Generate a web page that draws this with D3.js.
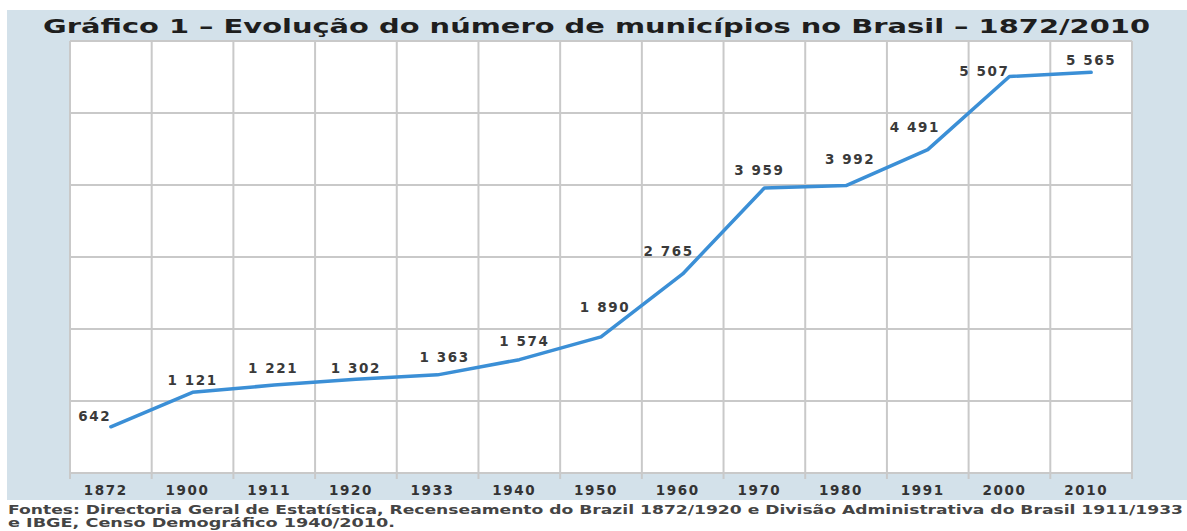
<!DOCTYPE html>
<html>
<head>
<meta charset="utf-8">
<script src="https://cdn.jsdelivr.net/npm/d3@7"></script>
<style>
  body { margin: 0; background: #fff; }
  svg { display: block; }
  text { font-family: "DejaVu Sans", Verdana, sans-serif; }
</style>
</head>
<body>
<div id="chart"></div>
<script>
// Data
var years = ['1872','1900','1911','1920','1933','1940','1950','1960','1970','1980','1991','2000','2010'];
var municipios = [642, 1121, 1221, 1302, 1363, 1574, 1890, 2765, 3959, 3992, 4491, 5507, 5565];
var gridValues = [0, 1000, 2000, 3000, 4000, 5000, 6000];

// hand placed nudges for the value labels (px from the point)
var labelDx = [-16, 0, -1, 0, 7, 5, 4, -14, -5, 4, -13, -25, 0];
var labelDy = [-6, -7, -12, -6, -13, -14, -25, -18, -13, -22, -18, 0, -7];

var titleText = 'Gráfico 1 – Evolução do número de municípios no Brasil – 1872/2010';
var footLines = [
  'Fontes: Directoria Geral de Estatística, Recenseamento do Brazil 1872/1920 e Divisão Administrativa do Brasil 1911/1933',
  'e IBGE, Censo Demográfico 1940/2010.'
];

var width = 1187, height = 531;
var plot = {left: 70, right: 1132, top: 41, bottom: 473};

var svg = d3.select('#chart').append('svg').attr('width', width).attr('height', height);

// blue panel behind the chart
svg.append('rect').attr('x', 7).attr('y', 10).attr('width', width - 7).attr('height', 490).attr('fill', '#d3e1ea');
svg.append('rect').attr('x', plot.left).attr('y', plot.top)
  .attr('width', plot.right - plot.left).attr('height', plot.bottom - plot.top).attr('fill', '#fff');

var x = d3.scaleBand().domain(years).range([plot.left, plot.right]);
var y = d3.scaleLinear().domain([0, 6000]).range([plot.bottom, plot.top]);

var grid = svg.append('g').attr('stroke', '#c9c9c9').attr('stroke-width', 2);
// horizontal grid
grid.selectAll('.hgrid').data(gridValues).enter().append('line')
  .attr('x1', plot.left).attr('x2', plot.right)
  .attr('y1', function(d){ return Math.round(y(d)); })
  .attr('y2', function(d){ return Math.round(y(d)); });
// vertical grid at band edges, dropping a little below the axis
var edges = years.map(function(d){ return x(d); }).concat([x.range()[1]]);
grid.selectAll('.vgrid').data(edges).enter().append('line')
  .attr('x1', function(d){ return d; }).attr('x2', function(d){ return d; })
  .attr('y1', plot.top).attr('y2', plot.bottom + 6);

// x axis labels
svg.append('g').selectAll('text').data(years).enter().append('text')
  .attr('x', function(d){ return x(d) + x.bandwidth()/2 - 5; })
  .attr('y', 495)
  .attr('text-anchor', 'middle')
  .attr('font-size', 13.5).attr('font-weight', 'bold')
  .attr('letter-spacing', '1.6px')
  .attr('fill', '#333')
  .text(function(d){ return d; });

// the line
var pts = years.map(function(d, i){ return [x(d) + x.bandwidth()/2, y(municipios[i])]; });
svg.append('path').datum(pts)
  .attr('d', d3.line())
  .attr('fill', 'none').attr('stroke', '#3b8fd6').attr('stroke-width', 3.5)
  .attr('stroke-linejoin', 'round').attr('stroke-linecap', 'round');

// value labels
var fmt = d3.formatLocale({decimal: ',', thousands: ' ', grouping: [3], currency: ['', '']}).format(',d');
svg.append('g').selectAll('text').data(municipios).enter().append('text')
  .attr('x', function(d, i){ return pts[i][0] + labelDx[i]; })
  .attr('y', function(d, i){ return pts[i][1] + labelDy[i]; })
  .attr('text-anchor', 'middle')
  .attr('font-size', 13.5).attr('font-weight', 'bold')
  .attr('letter-spacing', '1.6px')
  .attr('fill', '#3a3a3a')
  .text(function(d){ return fmt(d); });

// title
svg.append('text').attr('x', 43).attr('y', 33)
  .attr('font-size', 20).attr('font-weight', 'bold').attr('fill', '#1e1e1e')
  .attr('textLength', 1107).attr('lengthAdjust', 'spacingAndGlyphs')
  .text(titleText);

// sources
svg.append('text').attr('x', 8).attr('y', 514)
  .attr('font-size', 12).attr('font-weight', 'bold').attr('fill', '#444')
  .attr('textLength', 1175).attr('lengthAdjust', 'spacingAndGlyphs')
  .text(footLines[0]);
svg.append('text').attr('x', 8).attr('y', 527)
  .attr('font-size', 12).attr('font-weight', 'bold').attr('fill', '#444')
  .attr('textLength', 387).attr('lengthAdjust', 'spacingAndGlyphs')
  .text(footLines[1]);
</script>
</body>
</html>
